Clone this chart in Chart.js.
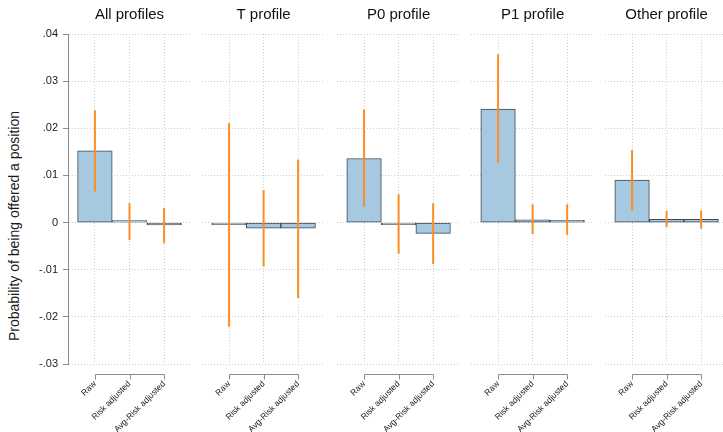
<!DOCTYPE html>
<html>
<head>
<meta charset="utf-8">
<script src="https://cdn.jsdelivr.net/npm/chart.js@4.4.1/dist/chart.umd.min.js"></script>
<style>
  html, body { margin: 0; padding: 0; background: #fff; overflow: hidden; }
  #wrap { position: relative; width: 723px; height: 432px; overflow: hidden; }
  .panel { position: absolute; top: 0; }
  #ytitle {
    position: absolute; left: 14px; top: 226px;
    transform: translate(-50%, -50%) rotate(-90deg);
    font: 14px "Liberation Sans", Arial, sans-serif; color: #1a1a1a; white-space: nowrap;
  }
</style>
</head>
<body>
<div id="wrap">
  <div id="ytitle">Probability of being offered a position</div>
</div>
<script>
// categories, panels, axis ticks
const catLabels = ["Raw", "Risk adjusted", "Avg-Risk adjusted"];
const panelTitles = ["All profiles", "T profile", "P0 profile", "P1 profile", "Other profile"];
const yTicks = [-0.03, -0.02, -0.01, 0, 0.01, 0.02, 0.03, 0.04];
const yTickLabels = ["-.03", "-.02", "-.01", "0", ".01", ".02", ".03", ".04"];

// point estimates and CI bounds, one array per panel
const allEst = [0.0152, 0.0002, -0.0005];
const allLo = [0.0066, -0.0037, -0.0044];
const allHi = [0.0238, 0.0041, 0.0031];

const tEst = [-0.0004, -0.0012, -0.0012];
const tLo = [-0.0221, -0.0093, -0.0160];
const tHi = [0.0211, 0.0069, 0.0134];

const p0Est = [0.0136, -0.0003, -0.0023];
const p0Lo = [0.0034, -0.0066, -0.0088];
const p0Hi = [0.0240, 0.0060, 0.0041];

const p1Est = [0.0241, 0.0006, 0.0005];
const p1Lo = [0.0126, -0.0024, -0.0026];
const p1Hi = [0.0357, 0.0039, 0.0039];

const otherEst = [0.0090, 0.0007, 0.0007];
const otherLo = [0.0025, -0.0010, -0.0013];
const otherHi = [0.0154, 0.0025, 0.0026];

const estimates = [allEst, tEst, p0Est, p1Est, otherEst];
const ciLow = [allLo, tLo, p0Lo, p1Lo, otherLo];
const ciHigh = [allHi, tHi, p0Hi, p1Hi, otherHi];

Chart.defaults.font.family = '"Liberation Sans", Arial, sans-serif';
Chart.defaults.color = "#1a1a1a";

// stata-like x axis: line between first and last category, ticks hanging down
const bracket = {
  id: "bracket",
  afterDraw(chart) {
    const sx = chart.scales.x, ctx = chart.ctx;
    const y0 = Math.round(chart.chartArea.bottom + 10) + 0.5;
    const xs = catLabels.map((_, i) => Math.round(sx.getPixelForValue(i)) + 0.5);
    ctx.save();
    ctx.strokeStyle = "#8c8c8c";
    ctx.lineWidth = 1;
    ctx.beginPath();
    ctx.moveTo(xs[0], y0);
    ctx.lineTo(xs[xs.length - 1], y0);
    xs.forEach(px => { ctx.moveTo(px, y0); ctx.lineTo(px, y0 + 5); });
    ctx.stroke();
    ctx.restore();
  }
};

const wrap = document.getElementById("wrap");
const catPx = 34.6;   // width of one category
const halfW = 61.5;   // half width of a panel's plot area
const half = halfW / catPx;

function makePanel(k) {
  const first = k === 0;
  const center = 129.5 + 134.3 * k;
  const left = first ? 0 : Math.round(center - halfW);
  const width = first ? 191 : 123;

  const div = document.createElement("div");
  div.className = "panel";
  div.style.left = left + "px";
  const cv = document.createElement("canvas");
  cv.width = width; cv.height = 432;
  cv.style.width = width + "px"; cv.style.height = "432px";
  div.appendChild(cv);
  wrap.appendChild(div);

  new Chart(cv, {
    type: "bar",
    data: {
      datasets: [
        {
          data: estimates[k].map((v, i) => ({ x: i, y: v })),
          backgroundColor: "#a6c8e1",
          borderColor: "#3e4952",
          borderWidth: 1,
          borderSkipped: false,
          minBarLength: 2,
          barPercentage: 1,
          categoryPercentage: 1,
          grouped: false,
          order: 2
        },
        {
          data: ciLow[k].map((v, i) => ({ x: i, y: [v, ciHigh[k][i]] })),
          backgroundColor: "#fb8d24",
          borderWidth: 0,
          maxBarThickness: 2,
          grouped: false,
          order: 1
        }
      ]
    },
    options: {
      responsive: false,
      animation: false,
      layout: { padding: 0 },
      plugins: {
        legend: { display: false },
        tooltip: { enabled: false },
        title: {
          display: true,
          text: panelTitles[k],
          fullSize: false,
          color: "#111",
          font: { size: 15, weight: "normal" },
          padding: { top: 6, bottom: 10 }
        }
      },
      scales: {
        x: {
          type: "linear",
          offset: false,
          min: 1 - half,
          max: 1 + half,
          afterBuildTicks: s => { s.ticks = catLabels.map((_, i) => ({ value: i })); },
          afterFit: s => { s.height = 68; },
          border: { display: false, dash: [1, 2] },
          grid: { color: "#cccccc", drawTicks: false, offset: false },
          ticks: {
            autoSkip: false,
            minRotation: 45,
            maxRotation: 45,
            padding: 15,
            font: { size: 8.5 },
            callback: (v, i) => catLabels[i]
          }
        },
        y: {
          min: -0.03,
          max: 0.04,
          afterBuildTicks: s => { s.ticks = yTicks.map(v => ({ value: v })); },
          afterFit: s => { s.width = first ? 68 : 0; },
          border: { display: first, color: "#8c8c8c", width: 1, dash: [1, 2] },
          grid: {
            color: "#cccccc",
            drawTicks: first,
            tickLength: 5,
            tickColor: "#8c8c8c",
            tickBorderDash: []
          },
          ticks: {
            display: first,
            padding: 5,
            font: { size: 11 },
            callback: (v, i) => yTickLabels[i]
          }
        }
      }
    },
    plugins: [bracket]
  });
}

panelTitles.forEach((_, k) => makePanel(k));
</script>
</body>
</html>
